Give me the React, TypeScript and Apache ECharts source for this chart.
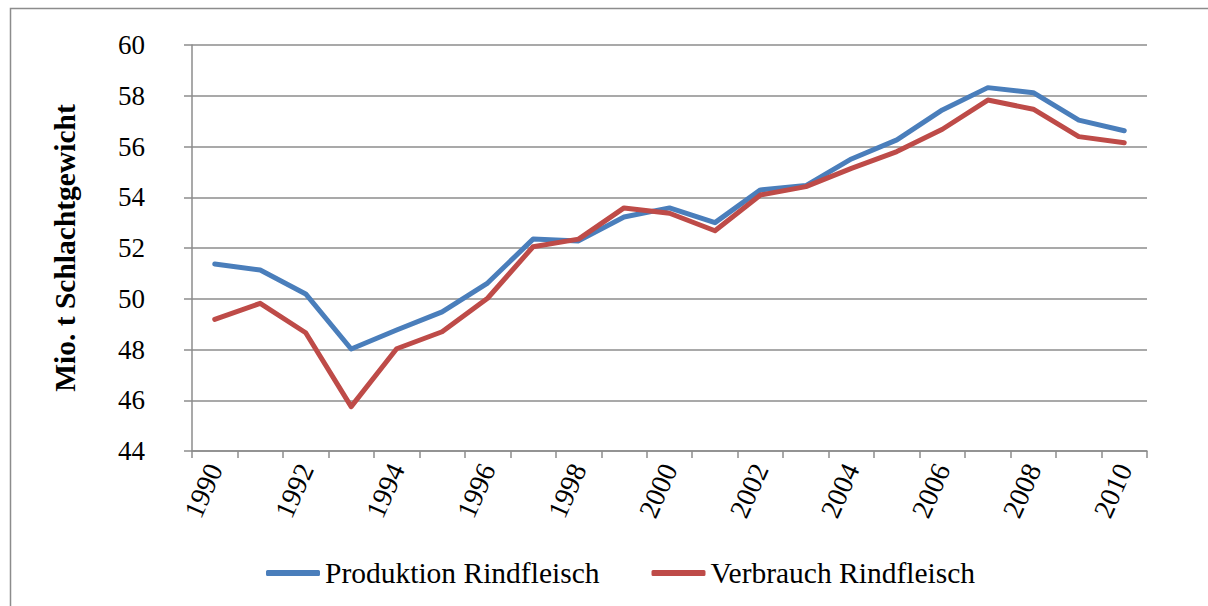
import React, { useEffect, useRef } from "react";
import * as echarts from "echarts";

const years = [
  "1990", "1991", "1992", "1993", "1994", "1995", "1996", "1997", "1998", "1999", "2000",
  "2001", "2002", "2003", "2004", "2005", "2006", "2007", "2008", "2009", "2010",
];
const produktion = [
  51.37, 51.13, 50.19, 48.02, 48.77, 49.48, 50.62, 52.35, 52.28, 53.22, 53.58,
  53.0, 54.29, 54.46, 55.51, 56.26, 57.44, 58.32, 58.12, 57.04, 56.62,
];
const verbrauch = [
  49.19, 49.82, 48.66, 45.75, 48.03, 48.7, 50.02, 52.05, 52.35, 53.58, 53.37,
  52.68, 54.09, 54.42, 55.14, 55.8, 56.68, 57.83, 57.47, 56.39, 56.15,
];
const seriesNames = ["Produktion Rindfleisch", "Verbrauch Rindfleisch"];
const yAxisTitle = "Mio. t Schlachtgewicht";

const FONT = '"Liberation Serif", "Times New Roman", serif';
const GRID_COLOR = "#8c8c8c";

export default function App() {
  const ref = useRef<HTMLDivElement>(null);
  useEffect(() => {
    if (!ref.current) return;
    const chart = echarts.init(ref.current, null, { renderer: "svg" });
    chart.setOption({
      animation: false,
      backgroundColor: "#ffffff",
      graphic: [
        {
          type: "rect",
          shape: { x: 10.5, y: 8.5, width: 1220, height: 620 },
          style: { fill: "none", stroke: "#8c8c8c", lineWidth: 1.5 },
          silent: true,
        },
      ],
      grid: { left: 192, right: 61, top: 45, bottom: 155, containLabel: false },
      legend: {
        left: 261,
        top: 553,
        icon: "roundRect",
        itemWidth: 54,
        itemHeight: 6,
        itemGap: 52,
        textStyle: { fontFamily: FONT, fontSize: 29.5, color: "#000" },
        data: seriesNames,
      },
      xAxis: {
        type: "category",
        data: years,
        boundaryGap: true,
        axisLine: { lineStyle: { color: GRID_COLOR, width: 1.5 } },
        axisTick: { show: true, interval: 0, length: 7, lineStyle: { color: GRID_COLOR, width: 1.5 } },
        axisLabel: {
          interval: 1,
          rotate: 66,
          margin: 14,
          fontFamily: FONT,
          fontSize: 28,
          color: "#000",
        },
      },
      yAxis: {
        type: "value",
        min: 44,
        max: 60,
        interval: 2,
        name: yAxisTitle,
        nameLocation: "middle",
        nameRotate: 90,
        nameGap: 112,
        nameTextStyle: { fontFamily: FONT, fontSize: 29.5, fontWeight: "bold", color: "#000" },
        axisLine: { show: true, lineStyle: { color: GRID_COLOR, width: 1.5 } },
        axisTick: { show: true, length: 8, lineStyle: { color: GRID_COLOR, width: 1.5 } },
        axisLabel: { margin: 47, fontFamily: FONT, fontSize: 27, color: "#000" },
        splitLine: { lineStyle: { color: GRID_COLOR, width: 1.5 } },
      },
      series: [
        {
          name: seriesNames[0],
          type: "line",
          data: produktion,
          showSymbol: false,
          symbol: "none",
          lineStyle: { color: "#4a7ebb", width: 5, cap: "round", join: "round" },
          itemStyle: { color: "#4a7ebb" },
        },
        {
          name: seriesNames[1],
          type: "line",
          data: verbrauch,
          showSymbol: false,
          symbol: "none",
          lineStyle: { color: "#be4b48", width: 5, cap: "round", join: "round" },
          itemStyle: { color: "#be4b48" },
        },
      ],
    });
    return () => chart.dispose();
  }, []);
  return (
    <div
      ref={ref}
      style={{ position: "fixed", left: 0, top: 0, width: 1208, height: 606, background: "#fff" }}
    />
  );
}
